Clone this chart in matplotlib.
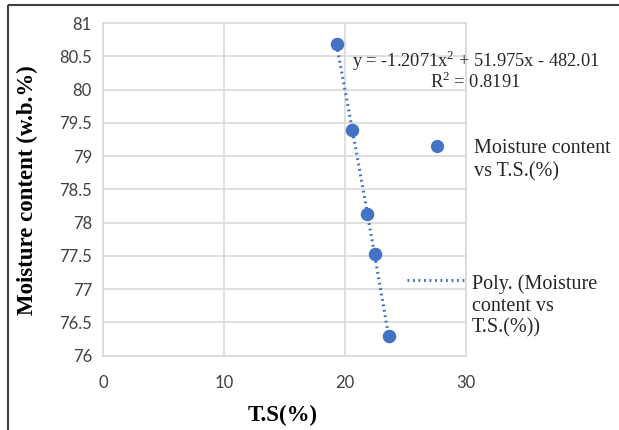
import matplotlib.pyplot as plt
from matplotlib.lines import Line2D
import numpy as np

# data
ts = [19.3, 20.6, 21.85, 22.45, 23.6]
moisture = [80.68, 79.39, 78.13, 77.53, 76.29]
eq_text = 'y = -1.2071x$^{2}$ + 51.975x - 482.01'
r2_text = 'R$^{2}$ = 0.8191'
series_label = 'Moisture content\nvs T.S.(%)'
trend_label = 'Poly. (Moisture\ncontent vs\nT.S.(%))'

blue = '#4472C4'
grid_c = '#D9D9D9'
W, H = 619, 430

plt.rcParams['mathtext.fontset'] = 'custom'
plt.rcParams['mathtext.rm'] = 'Liberation Serif'

fig = plt.figure(figsize=(W / 100, H / 100), dpi=100)
ax = fig.add_axes([103 / W, 1 - 355.7 / H, (466 - 103) / W, (355.7 - 23) / H])

def fx(px):
    return px / W

def fy(py):
    return 1 - py / H

# polynomial trendline (order 2) over the data range
coef = np.polyfit(ts, moisture, 2)
xt = np.linspace(min(ts), max(ts), 100)
ax.plot(xt, np.polyval(coef, xt), linestyle=(0, (0.6, 1.2)), color=blue,
        linewidth=2.2, zorder=2)
ax.scatter(ts, moisture, s=95, color=blue, zorder=3, linewidths=0)

ax.set_xlim(0, 30)
ax.set_ylim(76, 81)
ax.set_xticks([0, 10, 20, 30])
ax.set_yticks(np.arange(76, 81.01, 0.5))
ax.set_yticklabels(['76', '76.5', '77', '77.5', '78', '78.5', '79', '79.5', '80', '80.5', '81'])
ax.grid(True, color=grid_c, linewidth=1.2)
ax.set_axisbelow(True)
for s in ax.spines.values():
    s.set_color(grid_c)
    s.set_linewidth(1.2)
ax.tick_params(length=0, labelsize=12, colors='#404040', pad=8)
for lab in ax.get_xticklabels() + ax.get_yticklabels():
    lab.set_fontfamily('Lato')
ax.tick_params(axis='x', pad=14)

serif = 'Liberation Serif'
fig.text(fx(27), fy(190), 'Moisture content (w.b.%)', rotation=90, ha='center',
         va='center', fontsize=16.5, fontweight='bold', family=serif)
fig.text(fx(283), fy(415), 'T.S(%)', ha='center', va='center', fontsize=16.5,
         fontweight='bold', family=serif)

# trendline equation
fig.text(fx(352), fy(60.5), eq_text, ha='left', va='center', fontsize=13.2, family=serif,
         color='#262626')
fig.text(fx(520), fy(81.5), r2_text, ha='right', va='center', fontsize=13.2, family=serif,
         color='#262626')

# legend drawn by hand
fig.add_artist(Line2D([fx(436.7)], [fy(145.7)], marker='o', markersize=9.5, color=blue,
                      markeredgewidth=0, linestyle='none'))
fig.text(fx(474), fy(160.5), series_label, ha='left', va='center', fontsize=14.5,
         family=serif, color='#262626', linespacing=1.3)
fig.add_artist(Line2D([fx(406.7), fx(466.7)], [fy(280), fy(280)], color=blue,
                      linewidth=2.2, linestyle=(0, (0.6, 1.2))))
fig.text(fx(472), fy(306), trend_label, ha='left', va='center', fontsize=14.5,
         family=serif, color='#262626', linespacing=1.2)

# outer frame (top and left only)
fig.add_artist(Line2D([fx(8), 1.01], [fy(5), fy(5)], color='#404040', linewidth=1.5,
                      solid_capstyle='butt'))
fig.add_artist(Line2D([fx(8), fx(8)], [fy(5), -0.01], color='#404040', linewidth=1.5,
                      solid_capstyle='butt'))

plt.savefig('out.png', dpi=100)
